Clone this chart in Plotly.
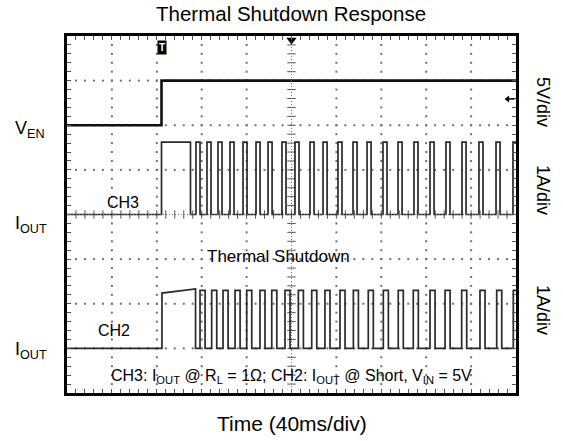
import plotly.graph_objects as go

# ---------------- data ----------------
time_span_ms = [0, 400]            # 10 div x 40 ms/div
ven_levels_v = [0.0, 5.0]          # enable low / high
ven_step_ms = 84.2

ch3_levels_a = [0.0, 1.62]         # CH3 off / on current
ch3_first_on_ms = 84.2
ch3_first_off_ms = 110.0
ch3_pulse_rise_ms = [114.9, 124.7, 134.5, 145.2, 156.8, 168.4, 179.1, 191.5, 203.1,
                     216.5, 228.1, 241.4, 254.8, 267.3, 281.5, 294.9, 309.1, 323.4,
                     337.6, 351.9, 367.0, 382.2, 397.3]
ch3_pulse_width_ms = 3.6

ch2_levels_a = [0.0, 1.30]         # CH2 off / on current
ch2_first_block_a = [1.24, 1.33]   # first on-period (rising slightly)
ch2_first_on_ms = 84.6
ch2_first_off_ms = 114.5
ch2_pulse_rise_ms = [118.5, 128.9, 139.0, 149.7, 160.1, 171.9, 182.4, 194.2, 206.1,
                     218.0, 229.8, 243.2, 255.1, 268.4, 281.8, 295.1, 308.5, 323.4,
                     336.8, 351.6, 367.9, 382.8, 397.6]
ch2_pulse_width_ms = 4.5

# channel scale (units/div) and screen offset (div)
ven_scale, ven_offset = 5.0, 6.0
ch3_scale, ch3_offset = 1.0, 4.0
ch2_scale, ch2_offset = 1.0, 1.0

T_END = time_span_ms[1]


def step_trace(t_step, lo, hi, scale, off):
    xs = [0, t_step, t_step, T_END]
    ys = [lo, lo, hi, hi]
    return xs, [off + v / scale for v in ys]


def pulse_trace(first_on, first_off, block, rises, width, lo, hi, scale, off):
    xs = [0, first_on, first_on, first_off, first_off]
    ys = [lo, lo, block[0], block[1], lo]
    for r in rises:
        f = r + width
        if f >= T_END:
            xs += [r, r, T_END]
            ys += [lo, hi, hi]
            break
        xs += [r, r, f, f]
        ys += [lo, hi, hi, lo]
    else:
        xs.append(T_END)
        ys.append(lo)
    return xs, [off + v / scale for v in ys]


fig = go.Figure()

# ---------------- graticule ----------------
div_t = (time_span_ms[1] - time_span_ms[0]) / 10.0
gx, gy = [], []
for i in range(1, 10):
    if i == 5:
        continue
    for j in range(1, 40):
        gx.append(i * div_t)
        gy.append(j * 0.2)
for j in range(1, 8):
    if j == 4:
        continue
    for k in range(1, 50):
        gx.append(k * div_t / 5)
        gy.append(j)
fig.add_trace(go.Scatter(x=gx, y=gy, mode="markers", hoverinfo="skip",
                         marker=dict(symbol="square", size=2, color="#707070", line=dict(width=0))))

# center crosshair
fig.add_shape(type="line", x0=5 * div_t, x1=5 * div_t, y0=0, y1=8, xref="x", yref="y",
              line=dict(color="#777", width=1, dash="1px,2px"))
fig.add_shape(type="line", x0=0, x1=T_END, y0=4, y1=4, xref="x", yref="y",
              line=dict(color="#777", width=1, dash="1px,2px"))
fig.add_trace(go.Scatter(x=[5 * div_t] * 39, y=[j * 0.2 for j in range(1, 40)], mode="markers",
                         hoverinfo="skip",
                         marker=dict(symbol="line-ew", size=6, line=dict(color="#555", width=1))))
fig.add_trace(go.Scatter(x=[k * div_t / 5 for k in range(1, 50)], y=[4] * 49, mode="markers",
                         hoverinfo="skip",
                         marker=dict(symbol="line-ns", size=6, line=dict(color="#555", width=1))))

# ---------------- waveforms ----------------
x, y = step_trace(ven_step_ms, ven_levels_v[0], ven_levels_v[1], ven_scale, ven_offset)
fig.add_trace(go.Scatter(x=x, y=y, mode="lines", line=dict(color="#111", width=2.6), hoverinfo="skip"))

x, y = pulse_trace(ch3_first_on_ms, ch3_first_off_ms, [ch3_levels_a[1], ch3_levels_a[1]],
                   ch3_pulse_rise_ms, ch3_pulse_width_ms, ch3_levels_a[0], ch3_levels_a[1],
                   ch3_scale, ch3_offset)
fig.add_trace(go.Scatter(x=x, y=y, mode="lines", line=dict(color="#2a2a2a", width=1.7), hoverinfo="skip"))

x, y = pulse_trace(ch2_first_on_ms, ch2_first_off_ms, ch2_first_block_a,
                   ch2_pulse_rise_ms, ch2_pulse_width_ms, ch2_levels_a[0], ch2_levels_a[1],
                   ch2_scale, ch2_offset)
fig.add_trace(go.Scatter(x=x, y=y, mode="lines", line=dict(color="#2a2a2a", width=1.7), hoverinfo="skip"))

# ---------------- scope markers ----------------
fig.add_trace(go.Scatter(x=[-3.0] * 3, y=[ven_offset, ch3_offset, ch2_offset], mode="markers",
                         cliponaxis=False, hoverinfo="skip",
                         marker=dict(symbol="triangle-right", size=8, color="black")))
fig.add_trace(go.Scatter(x=[5 * div_t], y=[7.91], mode="markers", cliponaxis=False, hoverinfo="skip",
                         marker=dict(symbol="triangle-down", size=9, color="black")))
fig.add_trace(go.Scatter(x=[392.5], y=[6.59], mode="markers", cliponaxis=False, hoverinfo="skip",
                         marker=dict(symbol="triangle-left", size=6, color="black")))
fig.add_shape(type="line", x0=392.5, x1=398.5, y0=6.59, y1=6.59, xref="x", yref="y",
              line=dict(color="black", width=1.5))

FONT = "Liberation Sans, Arial, Helvetica, sans-serif"


def px2paper(px, py):
    return (px - 67) / 449.0, (393 - py) / 357.0


def ann(text, px, py, size, xanchor="center", angle=0, **kw):
    xp, yp = px2paper(px, py)
    fig.add_annotation(text=text, x=xp, y=yp, xref="paper", yref="paper", showarrow=False,
                       xanchor=xanchor, yanchor="middle", textangle=angle,
                       font=dict(family=FONT, size=size, color="black"), **kw)


ann("Thermal Shutdown Response", 291, 13, 20.5)
ann("Time (40ms/div)", 292, 423, 21)
ann("V<sub>EN</sub>", 13, 129, 18, xanchor="left")
ann("I<sub>OUT</sub>", 13, 224, 18, xanchor="left")
ann("I<sub>OUT</sub>", 13, 350, 18, xanchor="left")
ann("5V/div", 543, 102, 18, angle=90)
ann("1A/div", 543, 190, 18, angle=90)
ann("1A/div", 543, 310, 18, angle=90)
ann("CH3", 123, 202, 16)
ann("CH2", 114, 330, 16)
ann("Thermal Shutdown", 278, 256, 17)
ann("CH3: I<sub>OUT</sub> @ R<sub>L</sub> = 1Ω; CH2: I<sub>OUT</sub> @ Short, V<sub>IN</sub> = 5V",
    291, 376, 16)

# trigger 'T' flag
xp, yp = px2paper(162, 47)
fig.add_annotation(text="<b>T</b>", x=xp, y=yp, xref="paper", yref="paper", showarrow=False,
                   font=dict(family=FONT, size=10, color="white"), bgcolor="black",
                   borderpad=1, xanchor="center", yanchor="middle")

fig.update_layout(
    width=563, height=441,
    margin=dict(l=67, r=47, t=36, b=48),
    paper_bgcolor="white", plot_bgcolor="white",
    showlegend=False,
    xaxis=dict(range=time_span_ms, showgrid=False, zeroline=False, showticklabels=False,
               ticks="inside", tick0=0, dtick=div_t / 5, ticklen=4, tickcolor="#555", tickwidth=1,
               showline=True, linecolor="black", linewidth=3, mirror="ticks", fixedrange=True),
    yaxis=dict(range=[0, 8], showgrid=False, zeroline=False, showticklabels=False,
               ticks="inside", tick0=0, dtick=0.2, ticklen=4, tickcolor="#555", tickwidth=1,
               showline=True, linecolor="black", linewidth=3, mirror="ticks", fixedrange=True),
)

# remove the browser's default 8px page margin so the figure sits at the window origin
fig.write_html("out.html", config={"displayModeBar": False},
               post_script="document.body.style.margin='0';")
